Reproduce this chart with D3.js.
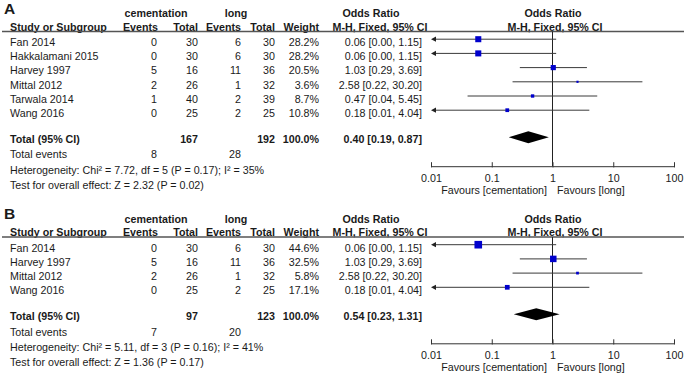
<!DOCTYPE html>
<html>
<head>
<meta charset="utf-8">
<script src="https://cdn.jsdelivr.net/npm/d3@7"></script>
<style>
  body { margin: 0; background: #fff; }
  svg { font-family: "Liberation Sans", Arial, sans-serif; font-size: 10.7px; }
  text { fill: #1a1a1a; }
  .b { font-weight: bold; }
</style>
</head>
<body>
<div id="chart"></div>
<script>
// panel A
const studiesA = ['Fan 2014', 'Hakkalamani 2015', 'Harvey 1997', 'Mittal 2012', 'Tarwala 2014', 'Wang 2016'];
const cemEventsA = [0, 0, 5, 2, 1, 0];
const cemTotalA = [30, 30, 16, 26, 40, 25];
const longEventsA = [6, 6, 11, 1, 2, 2];
const longTotalA = [30, 30, 36, 32, 39, 25];
const weightA = [28.2, 28.2, 20.5, 3.6, 8.7, 10.8];
const orA = [0.06, 0.06, 1.03, 2.58, 0.47, 0.18];
const lowA = [0.00, 0.00, 0.29, 0.22, 0.04, 0.01];
const highA = [1.15, 1.15, 3.69, 30.20, 5.45, 4.04];
const totalA = {cemTotal: 167, longTotal: 192, cemEvents: 8, longEvents: 28, or: 0.40, low: 0.19, high: 0.87};
const hetA = 'Heterogeneity: Chi² = 7.72, df = 5 (P = 0.17); I² = 35%';
const testA = 'Test for overall effect: Z = 2.32 (P = 0.02)';

// panel B
const studiesB = ['Fan 2014', 'Harvey 1997', 'Mittal 2012', 'Wang 2016'];
const cemEventsB = [0, 5, 2, 0];
const cemTotalB = [30, 16, 26, 25];
const longEventsB = [6, 11, 1, 2];
const longTotalB = [30, 36, 32, 25];
const weightB = [44.6, 32.5, 5.8, 17.1];
const orB = [0.06, 1.03, 2.58, 0.18];
const lowB = [0.00, 0.29, 0.22, 0.01];
const highB = [1.15, 3.69, 30.20, 4.04];
const totalB = {cemTotal: 97, longTotal: 123, cemEvents: 7, longEvents: 20, or: 0.54, low: 0.23, high: 1.31};
const hetB = 'Heterogeneity: Chi² = 5.11, df = 3 (P = 0.16); I² = 41%';
const testB = 'Test for overall effect: Z = 1.36 (P = 0.17)';

const tickValues = [0.01, 0.1, 1, 10, 100];
const tickLabels = ['0.01', '0.1', '1', '10', '100'];

const width = 685, height = 374;

const svg = d3.select('#chart')
  .append('svg')
  .attr('width', width)
  .attr('height', height);

const x = d3.scaleLog().domain([0.01, 100]).range([431, 674]);
const size = d3.scaleSqrt().domain([0, 100]).range([0, 11.4]);
const f2 = d3.format('.2f');

function drawPanel(top, letter, p) {
  const g = svg.append('g').attr('transform', `translate(0,${top})`);

  function txt(s, xx, yy, anchor, bold) {
    return g.append('text')
      .attr('x', xx).attr('y', yy)
      .attr('text-anchor', anchor || 'start')
      .classed('b', !!bold)
      .text(s);
  }

  g.append('text').attr('x', 4).attr('y', 13.5)
    .attr('font-weight', 'bold').attr('font-size', 15.5).text(letter);

  // group headers
  txt('cementation', 156, 17, 'middle', true);
  txt('long', 236, 17, 'middle', true);
  txt('Odds Ratio', 371, 17, 'middle', true);
  txt('Odds Ratio', 553, 17, 'middle', true);

  // column headers
  txt('Study or Subgroup', 10, 30.5, 'start', true);
  txt('Events', 158, 30.5, 'end', true);
  txt('Total', 198, 30.5, 'end', true);
  txt('Events', 241, 30.5, 'end', true);
  txt('Total', 275, 30.5, 'end', true);
  txt('Weight', 319, 30.5, 'end', true);
  txt('M-H, Fixed, 95% CI', 380, 30.5, 'middle', true);
  txt('M-H, Fixed, 95% CI', 555, 30.5, 'middle', true);

  g.append('line')
    .attr('x1', 2).attr('x2', 684)
    .attr('y1', 31.5).attr('y2', 31.5)
    .attr('stroke', '#555').attr('stroke-width', 1.3);

  const rowY = i => 46 + 14.2 * i;
  const n = p.studies.length;
  const totalY = rowY(n) + 12;
  const axisY = totalY + 23;

  // study rows
  p.studies.forEach((s, i) => {
    const y = rowY(i);
    txt(s, 10, y);
    txt(p.cemEvents[i], 157, y, 'end');
    txt(p.cemTotal[i], 198, y, 'end');
    txt(p.longEvents[i], 241, y, 'end');
    txt(p.longTotal[i], 275, y, 'end');
    txt(d3.format('.1f')(p.weight[i]) + '%', 319, y, 'end');
    txt(`${f2(p.or[i])} [${f2(p.low[i])}, ${f2(p.high[i])}]`, 422, y, 'end');
  });

  // total rows
  txt('Total (95% CI)', 10, totalY, 'start', true);
  txt(p.total.cemTotal, 198, totalY, 'end', true);
  txt(p.total.longTotal, 275, totalY, 'end', true);
  txt('100.0%', 319, totalY, 'end', true);
  txt(`${f2(p.total.or)} [${f2(p.total.low)}, ${f2(p.total.high)}]`, 422, totalY, 'end', true);
  txt('Total events', 10, totalY + 15.2);
  txt(p.total.cemEvents, 157, totalY + 15.2, 'end');
  txt(p.total.longEvents, 241, totalY + 15.2, 'end');
  txt(p.het, 10, totalY + 30.4);
  txt(p.test, 10, totalY + 45.8);

  // line of no effect
  g.append('line')
    .attr('x1', x(1)).attr('x2', x(1))
    .attr('y1', 31.5).attr('y2', axisY)
    .attr('stroke', '#222').attr('stroke-width', 1);

  // CI lines
  const rows = p.studies.map((s, i) => ({
    y: rowY(i) - 6.8, or: p.or[i], low: p.low[i], high: p.high[i], w: p.weight[i]
  }));

  const ci = g.append('g').selectAll('g').data(rows).enter().append('g');
  ci.append('line')
    .attr('x1', d => d.low <= 0.01 ? x(0.01) + 3 : x(d.low))
    .attr('x2', d => x(Math.min(d.high, 100)))
    .attr('y1', d => d.y).attr('y2', d => d.y)
    .attr('stroke', '#3a3a3a').attr('stroke-width', 1);
  ci.filter(d => d.low <= 0.01)
    .append('path')
    .attr('d', d => {
      const x0 = x(0.01);
      return `M${x0},${d.y}L${x0 + 5},${d.y - 2.6}L${x0 + 5},${d.y + 2.6}Z`;
    })
    .attr('fill', '#222');
  ci.append('rect')
    .attr('x', d => x(d.or) - size(d.w) / 2)
    .attr('y', d => d.y - size(d.w) / 2)
    .attr('width', d => size(d.w))
    .attr('height', d => size(d.w))
    .attr('fill', '#0000cc');

  // diamond
  const dy = totalY - 6;
  g.append('path')
    .attr('d', `M${x(p.total.low)},${dy}L${x(p.total.or)},${dy - 6}L${x(p.total.high)},${dy}L${x(p.total.or)},${dy + 6}Z`)
    .attr('fill', '#000');

  // axis
  const axis = d3.axisBottom(x)
    .tickValues(tickValues)
    .tickFormat((d, i) => tickLabels[i])
    .tickSizeInner(-4)
    .tickSizeOuter(0)
    .tickPadding(8);
  const ax = g.append('g')
    .attr('transform', `translate(0,${axisY})`)
    .call(axis);
  ax.selectAll('path, line').attr('stroke', '#333');
  ax.selectAll('line').attr('y1', 1.2);
  ax.selectAll('text')
    .attr('font-family', '"Liberation Sans", Arial, sans-serif')
    .attr('font-size', 10.7)
    .attr('fill', '#1a1a1a');

  txt('Favours [cementation]', 547, axisY + 28, 'end');
  txt('Favours [long]', 557, axisY + 28, 'start');
}

drawPanel(0, 'A', {
  studies: studiesA, cemEvents: cemEventsA, cemTotal: cemTotalA,
  longEvents: longEventsA, longTotal: longTotalA, weight: weightA,
  or: orA, low: lowA, high: highA, total: totalA, het: hetA, test: testA
});

drawPanel(205.5, 'B', {
  studies: studiesB, cemEvents: cemEventsB, cemTotal: cemTotalB,
  longEvents: longEventsB, longTotal: longTotalB, weight: weightB,
  or: orB, low: lowB, high: highB, total: totalB, het: hetB, test: testB
});
</script>
</body>
</html>
